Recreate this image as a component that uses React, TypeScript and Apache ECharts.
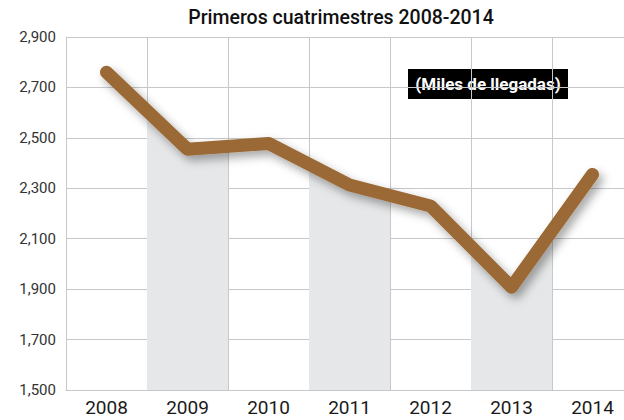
import React, { useEffect, useRef } from "react";
import * as echarts from "echarts";

const years = ["2008", "2009", "2010", "2011", "2012", "2013", "2014"];
const arrivals = [2760, 2455, 2478, 2313, 2230, 1908, 2355];
const yTicks = { min: 1500, max: 2900, step: 200 };
const titleText = "Primeros cuatrimestres 2008-2014";
const unitText = "(Miles de llegadas)";

const BROWN = "#9a6934";
const GRAY_BAND = "#e6e7e8";
const GRID = "#c6c8ca";

export default function App() {
  const ref = useRef<HTMLDivElement>(null);
  useEffect(() => {
    if (!ref.current) return;
    const chart = echarts.init(ref.current, undefined, { renderer: "svg" });
    // hidden helper x axis: each year occupies [2i, 2i+2], point at its centre 2i+1
    const pts = years.map((_, i) => [2 * i + 1, arrivals[i]]);
    const pieces = years.map((_, i) => ({
      gte: 2 * i,
      lt: 2 * i + 2,
      color: i % 2 === 1 ? GRAY_BAND : "rgba(255,255,255,0)",
    }));
    chart.setOption({
      animation: false,
      backgroundColor: "#ffffff",
      grid: {
        left: 66,
        width: 567,
        top: 37,
        bottom: 30,
        containLabel: false,
        outerBoundsMode: "none",
      },
      xAxis: [
        {
          type: "category",
          data: years,
          boundaryGap: true,
          axisLine: { show: true, lineStyle: { color: GRID, width: 1 } },
          axisTick: { show: false },
          splitLine: { show: false },
          axisLabel: {
            color: "#1a1a1a",
            fontFamily: "Roboto",
            fontSize: 19,
            margin: 8,
            interval: 0,
          },
        },
        {
          type: "value",
          min: 0,
          max: years.length * 2,
          interval: 2,
          position: "top",
          axisLine: { show: false },
          axisTick: { show: false },
          axisLabel: { show: false },
          splitLine: { show: true, lineStyle: { color: GRID, width: 1 } },
        },
      ],
      yAxis: {
        type: "value",
        min: yTicks.min,
        max: yTicks.max,
        interval: yTicks.step,
        axisLine: { show: true, lineStyle: { color: GRID, width: 1 } },
        axisTick: { show: false },
        splitLine: { show: true, lineStyle: { color: GRID, width: 1 } },
        axisLabel: {
          color: "#333333",
          fontFamily: "Roboto",
          fontSize: 15,
          margin: 10,
          formatter: (v: number) => v.toLocaleString("en-US"),
        },
      },
      visualMap: {
        type: "piecewise",
        show: false,
        dimension: 0,
        seriesIndex: 0,
        pieces,
      },
      series: [
        {
          type: "line",
          xAxisIndex: 1,
          data: pts,
          showSymbol: false,
          symbol: "none",
          lineStyle: { width: 0, opacity: 0 },
          areaStyle: { opacity: 1 },
          z: 1,
          silent: true,
        },
        {
          type: "line",
          xAxisIndex: 1,
          data: pts,
          showSymbol: false,
          symbol: "none",
          z: 3,
          lineStyle: {
            color: BROWN,
            width: 13,
            cap: "round",
            join: "round",
            shadowColor: "rgba(0,0,0,0.35)",
            shadowBlur: 10,
            shadowOffsetX: 4,
            shadowOffsetY: 5,
          },
        },
      ],
      graphic: [
        {
          type: "text",
          x: 341,
          y: 7,
          style: {
            text: titleText,
            fontFamily: "Roboto",
            fontSize: 19.5,
            fontWeight: 500,
            fill: "#111111",
            align: "center",
          },
        },
        {
          type: "group",
          x: 408,
          y: 69,
          children: [
            { type: "rect", shape: { x: 0, y: 0, width: 160, height: 30 }, style: { fill: "#000000" } },
            {
              type: "text",
              x: 80,
              y: 15,
              style: {
                text: unitText,
                fontFamily: "Roboto",
                fontSize: 17,
                fontWeight: "bold",
                fill: "#ffffff",
                align: "center",
                verticalAlign: "middle",
              },
            },
          ],
        },
      ],
    });
    return () => chart.dispose();
  }, []);
  return (
    <div
      ref={ref}
      style={{ position: "absolute", left: 0, top: 0, width: 624, height: 420 }}
    />
  );
}
